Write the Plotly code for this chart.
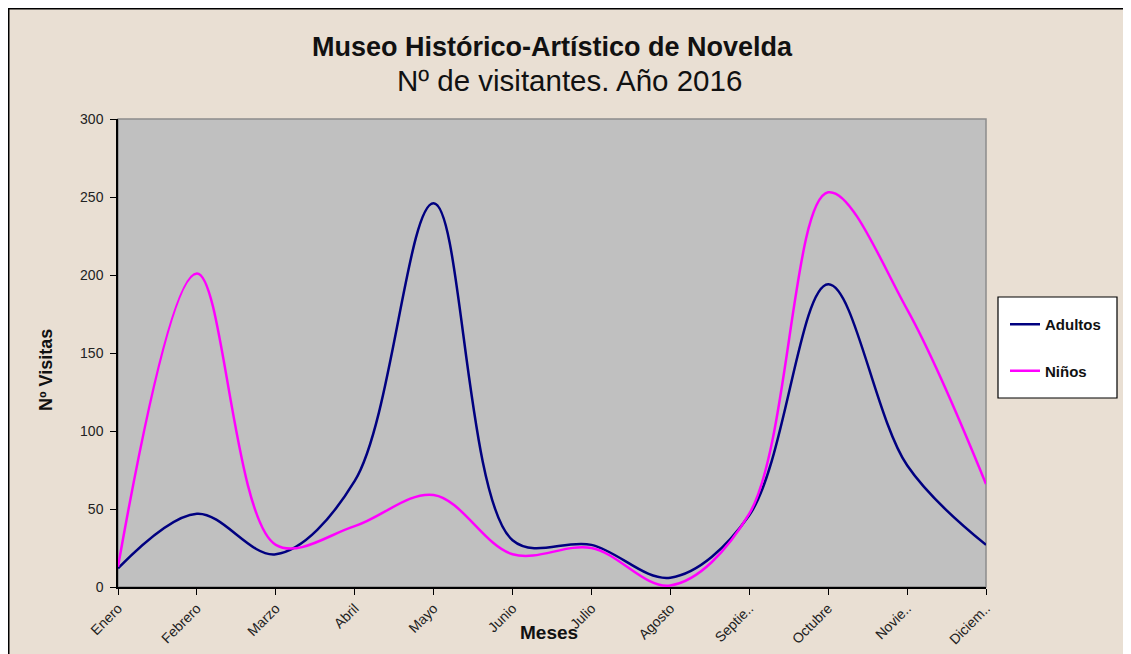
import plotly.graph_objects as go

meses = ["Enero", "Febrero", "Marzo", "Abril", "Mayo", "Junio", "Julio",
         "Agosto", "Septie..", "Octubre", "Novie..", "Diciem.."]
adultos = [12, 47, 21, 68, 246, 30, 27, 6, 46, 194, 78, 27]
ninos = [13, 201, 27, 39, 59, 21, 25, 1, 47, 253, 178, 66]
y_ticks = [0, 50, 100, 150, 200, 250, 300]

# page is offset by the default 8px body margin
OFF = 8
W, H = 1123, 646
L, T = 110, 111
pw, ph = 868, 468
R = W - L - pw
B = H - T - ph


def px(page_x):
    return (page_x - OFF - L) / pw


def py(page_y):
    return (H - B - (page_y - OFF)) / ph


xs = list(range(len(meses)))

fig = go.Figure()
fig.add_trace(go.Scatter(x=xs, y=adultos, name="Adultos", mode="lines",
                         line=dict(color="#000080", width=2.5, shape="spline", smoothing=1.0),
                         legendgroup="a"))
fig.add_trace(go.Scatter(x=xs, y=ninos, name="Niños", mode="lines",
                         line=dict(color="#ff00ff", width=2.5, shape="spline", smoothing=1.0),
                         legendgroup="b"))

font = "Liberation Sans, Arial, sans-serif"

fig.update_layout(
    width=W, height=H,
    margin=dict(l=L, r=R, t=T, b=B, autoexpand=False),
    paper_bgcolor="white",
    plot_bgcolor="rgba(0,0,0,0)",
    font=dict(family=font, size=13, color="#111"),
    showlegend=True,
    legend=dict(x=px(1005), y=py(308), xanchor="left", yanchor="top",
                bgcolor="rgba(0,0,0,0)", borderwidth=0,
                font=dict(family=font, size=15, color="#111", weight="bold"),
                tracegroupgap=24, traceorder="grouped",
                itemwidth=30),
    xaxis=dict(range=[0, len(meses) - 1], tickvals=xs, ticktext=meses,
               tickangle=-45, showgrid=False, zeroline=False,
               showline=True, linecolor="black", linewidth=1.5,
               ticks="outside", ticklen=6, tickcolor="black",
               tickfont=dict(family=font, size=14, color="#222")),
    yaxis=dict(range=[0, 300], tickvals=y_ticks, showgrid=False, zeroline=False,
               showline=True, linecolor="black", linewidth=1.5,
               ticks="outside", ticklen=6, tickcolor="black",
               ticklabelstandoff=4,
               tickfont=dict(family=font, size=14, color="#222")),
    shapes=[
        dict(type="rect", xref="paper", yref="paper",
             x0=px(8.5), y0=py(8.5), x1=px(1160), y1=py(680),
             fillcolor="#e9dfd3", line=dict(color="black", width=2), layer="below"),
        dict(type="rect", xref="paper", yref="paper",
             x0=0, y0=0, x1=1, y1=1,
             fillcolor="#c0c0c0", line=dict(color="#8c8c8c", width=1.5), layer="below"),
        dict(type="rect", xref="paper", yref="paper",
             x0=px(998), y0=py(297), x1=px(1117), y1=py(398),
             fillcolor="white", line=dict(color="black", width=1.2), layer="below"),
    ],
    annotations=[
        dict(text="<b>Museo Histórico-Artístico de Novelda</b>", xref="paper", yref="paper",
             x=px(552), y=py(47), xanchor="center", yanchor="middle", showarrow=False,
             font=dict(family=font, size=27, color="#111")),
        dict(text="Nº de visitantes. Año 2016", xref="paper", yref="paper",
             x=px(569), y=py(80), xanchor="center", yanchor="middle", showarrow=False,
             font=dict(family=font, size=29.5, color="#111")),
        dict(text="<b>Meses</b>", xref="paper", yref="paper",
             x=px(549), y=py(632), xanchor="center", yanchor="middle", showarrow=False,
             font=dict(family=font, size=19, color="#111")),
        dict(text="<b>Nº Visitas</b>", xref="paper", yref="paper",
             x=px(46), y=py(370), xanchor="center", yanchor="middle", showarrow=False,
             textangle=-90, font=dict(family=font, size=18, color="#111")),
    ],
)

fig.write_html("out.html")
